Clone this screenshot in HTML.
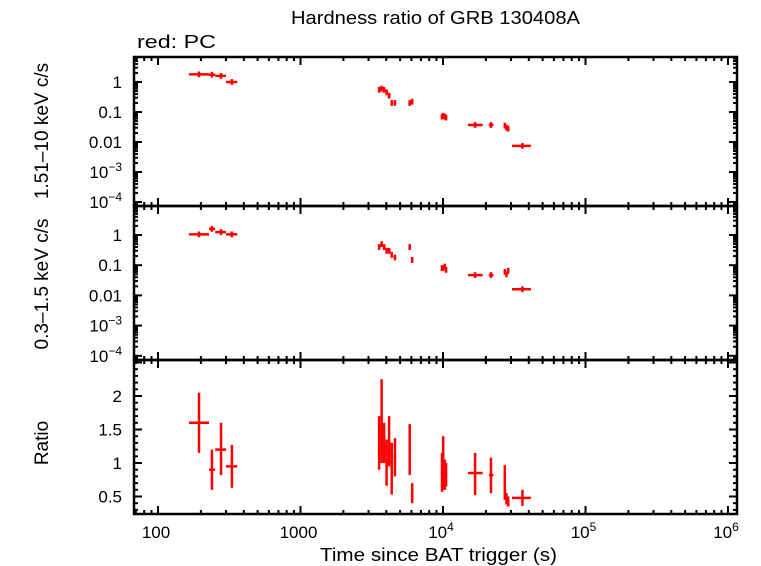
<!DOCTYPE html>
<html><head><meta charset="utf-8"><style>
body{margin:0;background:#fff;}
svg{display:block;font-family:"Liberation Sans",sans-serif;}
</style></head><body>
<svg id="chart" width="761" height="566" viewBox="0 0 761 566" xmlns="http://www.w3.org/2000/svg">
<text x="291" y="24" font-size="18" textLength="289" lengthAdjust="spacingAndGlyphs">Hardness ratio of GRB 130408A</text>
<text x="137" y="48" font-size="18" textLength="79" lengthAdjust="spacingAndGlyphs">red: PC</text>
<text transform="translate(48,131) rotate(-90)" font-size="19" text-anchor="middle">1.51–10 keV c/s</text>
<text transform="translate(48,284) rotate(-90)" font-size="19" text-anchor="middle">0.3–1.5 keV c/s</text>
<text transform="translate(48,443) rotate(-90)" font-size="19" text-anchor="middle">Ratio</text>
<text x="320" y="561" font-size="18" textLength="237" lengthAdjust="spacingAndGlyphs">Time since BAT trigger (s)</text>
<g id="layer"></g>
</svg>
<script>
const times = [194,239,277,330,3563,3710,3860,4020,4185,4365,4600,5840,6080,9840,10030,10300,10510,16800,21700,27150,27900,28670,36100];
const timeLo = [165,228,252,300,3500,3640,3790,3950,4110,4290,4500,5720,5970,9650,9900,10150,10350,14960,21000,26700,27500,28200,30500];
const timeHi = [228,252,300,360,3640,3790,3950,4110,4290,4450,4700,5970,6200,10000,10200,10400,10700,19000,22600,27500,28200,29200,41400];
const hardRate = [1.8,1.75,1.6,1.0,0.55,0.6,0.55,0.45,0.35,0.2,0.2,0.2,0.22,0.07,0.075,0.07,0.065,0.037,0.037,0.035,0.03,0.028,0.0074];
const softRate = [1.05,1.6,1.25,1.05,0.4,0.5,0.4,0.3,0.3,0.22,0.18,0.4,0.15,0.08,0.08,0.09,0.07,0.047,0.047,0.06,0.05,0.065,0.016];
const ratio = [1.6,0.9,1.2,0.95,1.3,1.3,1.25,1.0,1.3,0.8,1.1,1.22,0.55,0.85,1.0,0.8,0.82,0.85,0.82,0.72,0.45,0.42,0.48];
const ratioLo = [1.15,0.6,0.82,0.63,0.9,1.0,1.0,0.66,0.95,0.53,0.8,0.82,0.4,0.57,0.6,0.6,0.65,0.52,0.55,0.45,0.38,0.35,0.36];
const ratioHi = [2.05,1.2,1.6,1.27,1.7,2.25,1.6,1.35,1.7,1.3,1.37,1.58,0.7,1.15,1.4,1.05,1.0,1.15,1.08,0.97,0.55,0.5,0.6];
const xTickLabels = ["100","1000","10^4","10^5","10^6"];
const logYTickLabels = ["1","0.1","0.01","10^-3","10^-4"];
const ratioTickLabels = ["0.5","1","1.5","2"];

const NS="http://www.w3.org/2000/svg";
const layer=document.getElementById('layer');
const L=134,R=737;
const X=t=>158+(Math.log10(t)-2)*142.5;
const panels=[
 {top:57,bot:206,name:'hard',y:v=>82-Math.log10(v)*30},
 {top:206,bot:360,name:'soft',y:v=>235-Math.log10(v)*30.2},
 {top:360,bot:514,name:'ratio',y:v=>463-(v-1)*67}
];
function mk(tag,attrs,parent){const e=document.createElementNS(NS,tag);for(const k in attrs)e.setAttribute(k,attrs[k]);(parent||layer).appendChild(e);return e;}
function ln(x1,y1,x2,y2,c,w,p){return mk('line',{x1,y1,x2,y2,stroke:c,'stroke-width':w},p);}
function lbl(x,y,s,anchor){
  const tx=mk('text',{x,y,'font-size':17,'text-anchor':anchor});
  
  
  const m=s.match(/^10\^(-?\d+)$/);
  if(m){tx.appendChild(document.createTextNode('10'));const ts=mk('tspan',{dy:-7,'font-size':12},tx);ts.textContent=m[1].replace('-','−');}
  else tx.textContent=s;
}
panels.forEach((p,pi)=>{
  const g=mk('g',{});
  
  
  for(let d=1;d<=6;d++)for(let k=1;k<10;k++){
    const t=k*Math.pow(10,d);const x=X(t);if(x<L||x>R)continue;
    const len=k===1?8:4;
    ln(x,p.top,x,p.top+len,'#000',2,g);ln(x,p.bot,x,p.bot-len,'#000',2,g);
  }
  if(pi<2){
    for(let d=-5;d<=1;d++)for(let k=1;k<10;k++){
      const v=k*Math.pow(10,d);const y=p.y(v);if(y<p.top||y>p.bot)continue;
      const len=k===1?8:4;
      ln(L,y,L+len,y,'#000',2,g);ln(R,y,R-len,y,'#000',2,g);
    }
    logYTickLabels.forEach((s,i)=>lbl(122,p.y(Math.pow(10,-i))+6,s,'end'));
  } else {
    for(let v=0.3;v<=2.55;v+=0.1){const y=p.y(v);const maj=Math.abs(v*2-Math.round(v*2))<0.01;const len=maj?8:4;
      ln(L,y,L+len,y,'#000',2,g);ln(R,y,R-len,y,'#000',2,g);}
    ratioTickLabels.forEach(s=>lbl(122,p.y(parseFloat(s))+6,s,'end'));
  }
  mk('rect',{x:L,y:p.top,width:R-L,height:p.bot-p.top,fill:'none',stroke:'#000','stroke-width':2.5},g);
  for(let i=0;i<times.length;i++){
    const x=X(times[i]),x1=X(timeLo[i]),x2=X(timeHi[i]);
    let y,y1,y2;
    if(pi===0){y=p.y(hardRate[i]);y1=p.y(hardRate[i]*0.8);y2=p.y(hardRate[i]*1.25);}
    else if(pi===1){y=p.y(softRate[i]);y1=p.y(softRate[i]*0.8);y2=p.y(softRate[i]*1.25);}
    else {y=p.y(ratio[i]);y1=p.y(ratioLo[i]);y2=p.y(ratioHi[i]);}
    const pt=mk('g',{},g);
    
    
    ln(x1,y,x2,y,'#f00',2.5,pt);ln(x,y1,x,y2,'#f00',2.5,pt);
  }
});
xTickLabels.forEach((s,i)=>lbl(X(Math.pow(10,i+2))-2,538,s,'middle'));
</script>
</body></html>
